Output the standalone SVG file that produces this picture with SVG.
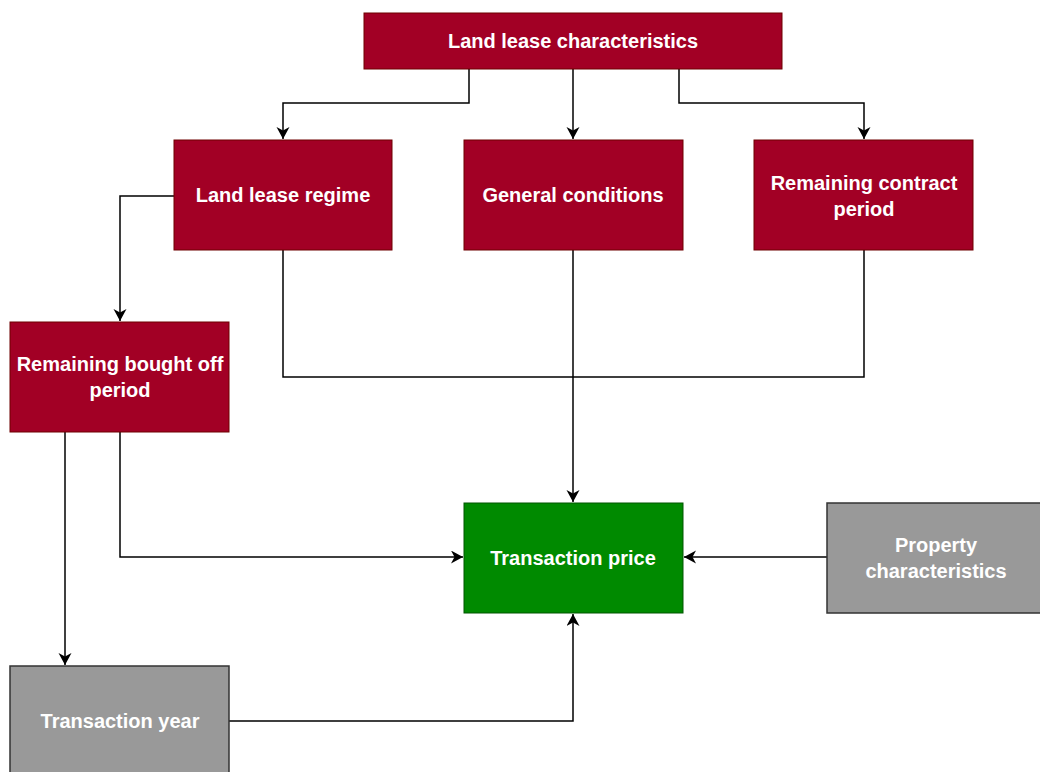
<svg xmlns="http://www.w3.org/2000/svg" width="1040" height="772" viewBox="0 0 1040 772">
  <style>
    .red { fill: #a20025; stroke: #6f0000; stroke-width: 1; }
    .green { fill: #008a00; stroke: #005700; stroke-width: 1; }
    .gray { fill: #999999; stroke: #333333; stroke-width: 1.5; }
    .lbl { fill: #ffffff; font-family: "Liberation Sans", Arial, Helvetica, sans-serif; font-size: 20px; font-weight: bold; text-anchor: middle; }
    .conn { fill: none; stroke: #000000; stroke-width: 1.5; }
  </style>
  <defs>
    <marker id="arr" markerUnits="userSpaceOnUse" markerWidth="16" markerHeight="16" refX="12" refY="6.5" orient="auto">
      <path d="M0,0 L12,6.5 L0,13 L3.5,6.5 Z" fill="#000000"/>
    </marker>
  </defs>
  <rect width="1040" height="772" fill="#ffffff"/>
  <g id="connectors">
    <polyline class="conn" points="469,69 469,103 283,103 283,139" marker-end="url(#arr)"/>
    <polyline class="conn" points="573,69 573,139" marker-end="url(#arr)"/>
    <polyline class="conn" points="679,69 679,103 864,103 864,139" marker-end="url(#arr)"/>
    <polyline class="conn" points="174,196 120,196 120,321" marker-end="url(#arr)"/>
    <polyline class="conn" points="283,250 283,377 864,377 864,250"/>
    <polyline class="conn" points="573,250 573,502" marker-end="url(#arr)"/>
    <polyline class="conn" points="120,432 120,557 463,557" marker-end="url(#arr)"/>
    <polyline class="conn" points="65,432 65,665" marker-end="url(#arr)"/>
    <polyline class="conn" points="229,721 573,721 573,614" marker-end="url(#arr)"/>
    <polyline class="conn" points="827,557 684,557" marker-end="url(#arr)"/>
  </g>
  <g id="node-land-lease-characteristics">
    <rect class="red" x="364" y="13" width="418" height="56"/>
    <text class="lbl" x="573" y="48">Land lease characteristics</text>
  </g>
  <g id="node-land-lease-regime">
    <rect class="red" x="174" y="140" width="218" height="110"/>
    <text class="lbl" x="283" y="202">Land lease regime</text>
  </g>
  <g id="node-general-conditions">
    <rect class="red" x="464" y="140" width="219" height="110"/>
    <text class="lbl" x="573" y="202">General conditions</text>
  </g>
  <g id="node-remaining-contract-period">
    <rect class="red" x="754" y="140" width="219" height="110"/>
    <text class="lbl" x="864" y="190">Remaining contract</text>
    <text class="lbl" x="864" y="216">period</text>
  </g>
  <g id="node-remaining-bought-off-period">
    <rect class="red" x="10" y="322" width="219" height="110"/>
    <text class="lbl" x="120" y="371">Remaining bought off</text>
    <text class="lbl" x="120" y="397">period</text>
  </g>
  <g id="node-transaction-price">
    <rect class="green" x="464" y="503" width="219" height="110"/>
    <text class="lbl" x="573" y="565">Transaction price</text>
  </g>
  <g id="node-property-characteristics">
    <rect class="gray" x="827" y="503" width="218" height="110"/>
    <text class="lbl" x="936" y="552">Property</text>
    <text class="lbl" x="936" y="578">characteristics</text>
  </g>
  <g id="node-transaction-year">
    <rect class="gray" x="10" y="666" width="219" height="110"/>
    <text class="lbl" x="120" y="728">Transaction year</text>
  </g>
</svg>
